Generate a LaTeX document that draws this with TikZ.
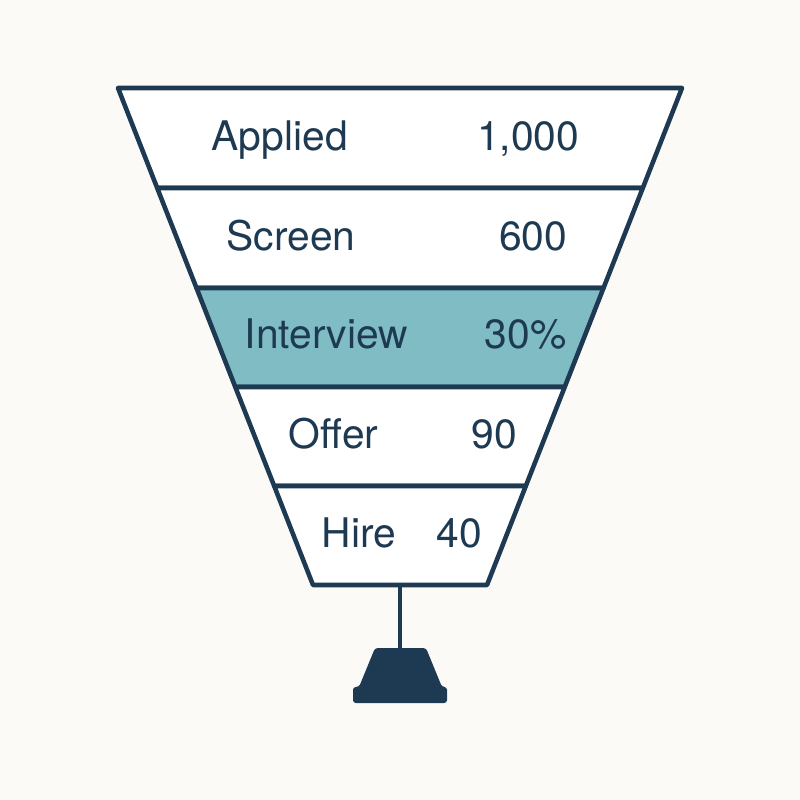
\documentclass[tikz,border=0pt]{standalone}
\usepackage{fontspec}
\setmainfont{TeX Gyre Heros}
\definecolor{navy}{HTML}{1E3A52}
\definecolor{teal}{HTML}{80BCC4}
\definecolor{paper}{HTML}{FBFAF7}
\begin{document}
\begin{tikzpicture}[x=0.01cm, y=-0.01cm,
  band/.style = {draw=navy, line width=1.3pt, line join=round},
  stage/.style = {anchor=base west, inner sep=0pt, text=navy, font=\fontsize{11.6}{13}\selectfont},
  count/.style = {anchor=base east, inner sep=0pt, text=navy, font=\fontsize{11.6}{13}\selectfont}]
  \fill[paper] (0,0) rectangle (800,800);
  % funnel bands: top y, bottom y, half width top, half width bottom
  \foreach \yt/\yb/\wt/\wb/\col in {88/188/282/242.8/white,
      188/288/242.8/203.5/white, 288/387/203.5/164.7/teal,
      387/486/164.7/125.8/white, 486/585/125.8/87/white}
    \filldraw[band, fill=\col] (400-\wt,\yt) -- (400+\wt,\yt)
      -- (400+\wb,\yb) -- (400-\wb,\yb) -- cycle;
  % stages and counts
  \node[stage] (applied) at (211,150) {Applied};
  \node[count] (applied-n) at (580,150) {1,000};
  \node[stage] (screen) at (226,250) {Screen};
  \node[count] (screen-n) at (568,250) {600};
  \node[stage] (interview) at (244,348) {Interview};
  \node[count] (interview-n) at (567,348) {30\%};
  \node[stage] (offer) at (288,448) {Offer};
  \node[count] (offer-n) at (518,448) {90};
  \node[stage] (hire) at (321,547) {Hire};
  \node[count] (hire-n) at (483,547) {40};
  % stand
  \coordinate (spout) at (400,585);
  \coordinate (foot) at (400,650);
  \draw[navy, line width=1.1pt] (spout) -- (foot);
  \fill[navy, rounded corners=0.8pt] (375,648) -- (426,648) -- (442,687)
    -- (447,687) -- (447,703) -- (353,703) -- (353,687) -- (359,687) -- cycle;
\end{tikzpicture}
\end{document}
